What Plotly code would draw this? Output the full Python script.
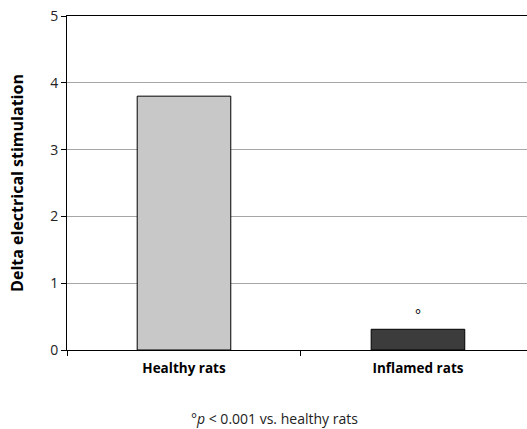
import plotly.graph_objects as go

categories = ["Healthy rats", "Inflamed rats"]
values = [3.80, 0.31]
colors = ["#c8c8c8", "#3c3c3c"]
y_ticks = [0, 1, 2, 3, 4, 5]
y_title = "Delta electrical stimulation"
footnote = "°<i>p</i> < 0.001 vs. healthy rats"
marker_text = "°"

FONT = "Open Sans"

fig = go.Figure()
fig.add_trace(go.Bar(
    x=categories, y=values, width=0.4,
    marker=dict(color=colors, line=dict(color="black", width=1)),
    showlegend=False, hoverinfo="skip",
))

fig.add_annotation(x=categories[1], y=values[1], text=marker_text, showarrow=False,
                   yanchor="bottom", yshift=3, font=dict(family=FONT, size=14, color="black"))

fig.add_annotation(x=0.45, y=-0.204, xref="paper", yref="paper", text=footnote,
                   showarrow=False, xanchor="center", yanchor="middle",
                   font=dict(family=FONT, size=14, color="#222222"))

fig.update_layout(
    width=527, height=429,
    margin=dict(l=67, r=0, t=16, b=79),
    plot_bgcolor="white", paper_bgcolor="white",
    bargap=0.6,
    font=dict(family=FONT, color="black"),
    xaxis=dict(
        type="category", range=[-0.5, 1.466],
        showline=True, linecolor="black", linewidth=1, mirror=True,
        ticks="outside", tickson="boundaries", ticklen=5, tickcolor="black",
        tickfont=dict(family=FONT, size=13.5, color="black"),
        tickprefix="<b>", ticksuffix="</b>",
        ticklabelstandoff=6,
        showgrid=False,
    ),
    yaxis=dict(
        range=[0, 5], tickvals=y_ticks,
        showline=True, linecolor="black", linewidth=1,
        ticks="outside", ticklen=5, tickcolor="black",
        tickfont=dict(family=FONT, size=14, color="#222222"),
        showgrid=True, gridcolor="#a6a6a6", gridwidth=1,
        zeroline=False,
        title=dict(text="<b>" + y_title + "</b>", font=dict(family=FONT, size=16, color="black"), standoff=22),
    ),
)

fig.write_html("out.html", config={"displayModeBar": False},
               post_script="document.body.style.margin='0';document.body.style.padding='0';")
